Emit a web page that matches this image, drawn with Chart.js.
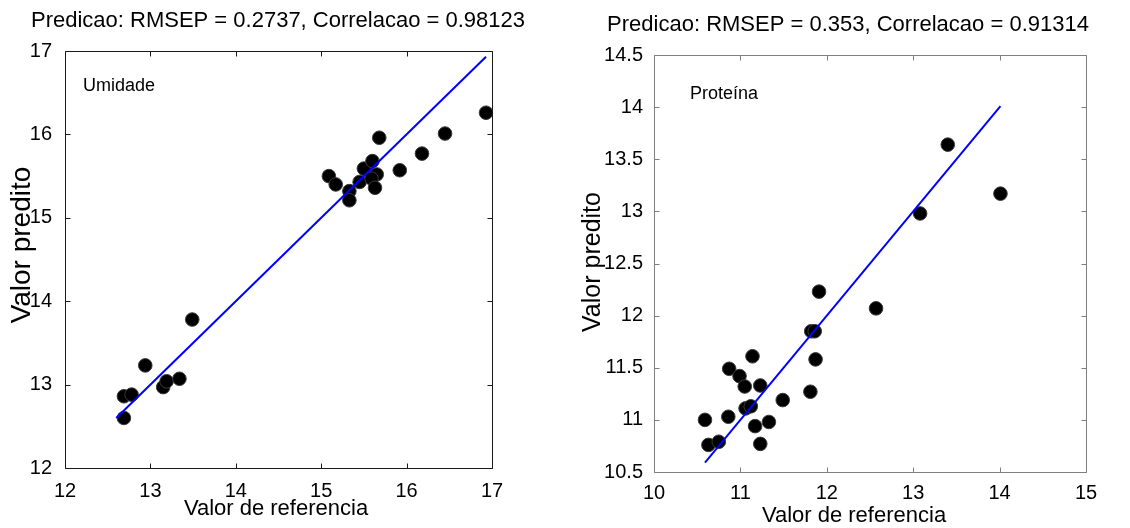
<!DOCTYPE html>
<html>
<head>
<meta charset="utf-8">
<script src="https://cdn.jsdelivr.net/npm/chart.js@4.4.1/dist/chart.umd.min.js"></script>
<style>
  html, body { margin: 0; padding: 0; background: #fff; }
  #wrap { position: relative; width: 1130px; height: 528px; overflow: hidden; }
  canvas { position: absolute; top: 0; }
  #umidadeChart { left: 0; }
  #proteinaChart { left: 565px; }
</style>
</head>
<body>
<div id="wrap">
  <canvas id="umidadeChart" width="565" height="528"></canvas>
  <canvas id="proteinaChart" width="565" height="528"></canvas>
</div>
<script>
// Umidade: valor de referencia x valor predito
const umidadeRef  = [12.69, 12.78, 12.69, 12.94, 13.15, 13.19, 13.34, 13.49, 15.09, 15.17, 15.33, 15.33,
                     15.45, 15.50, 15.60, 15.65, 15.59, 15.63, 15.68, 15.92, 16.18, 16.45, 16.93];
const umidadePred = [12.86, 12.88, 12.60, 13.23, 12.97, 13.04, 13.07, 13.78, 15.50, 15.40, 15.32, 15.21,
                     15.43, 15.59, 15.68, 15.52, 15.47, 15.36, 15.96, 15.57, 15.77, 16.01, 16.26];
const umidadeTicksX = [12, 13, 14, 15, 16, 17];
const umidadeTicksY = [12, 13, 14, 15, 16, 17];

// Proteina
const proteinaRef  = [10.59, 10.63, 10.75, 10.87, 10.86, 10.99, 11.05, 11.14, 11.06, 11.12, 11.17, 11.23,
                      11.23, 11.33, 11.49, 11.81, 11.82, 11.86, 11.87, 11.91, 12.57, 13.08, 13.40, 14.01];
const proteinaPred = [11.00, 10.76, 10.79, 11.49, 11.03, 11.42, 11.32, 11.61, 11.11, 11.13, 10.94, 11.33,
                      10.77, 10.98, 11.19, 11.27, 11.85, 11.85, 11.58, 12.23, 12.07, 12.98, 13.64, 13.17];
const proteinaTicksX = [10, 11, 12, 13, 14, 15];
const proteinaTicksY = [10.5, 11, 11.5, 12, 12.5, 13, 13.5, 14, 14.5];

const FONT = "'Liberation Sans', Arial, sans-serif";

// box with inward ticks + texts
const framePlugin = {
  id: 'frame',
  afterDraw(chart, args, opts) {
    const {ctx, chartArea: a, scales: {x, y}} = chart;
    const L = Math.round(a.left) + 0.5, R = Math.round(a.right) + 0.5;
    const T = Math.round(a.top) + 0.5, B = Math.round(a.bottom) + 0.5;
    ctx.save();
    ctx.strokeStyle = opts.color;
    ctx.lineWidth = 1;
    ctx.beginPath();
    ctx.rect(L, T, R - L, B - T);
    x.ticks.forEach(t => {
      const px = Math.round(x.getPixelForValue(t.value)) + 0.5;
      ctx.moveTo(px, B); ctx.lineTo(px, B - 5);
      ctx.moveTo(px, T); ctx.lineTo(px, T + 5);
    });
    y.ticks.forEach(t => {
      const py = Math.round(y.getPixelForValue(t.value)) + 0.5;
      ctx.moveTo(L, py); ctx.lineTo(L + 5, py);
      ctx.moveTo(R, py); ctx.lineTo(R - 5, py);
    });
    ctx.stroke();

    ctx.fillStyle = '#000';
    ctx.textBaseline = 'alphabetic';
    ctx.textAlign = 'center';
    ctx.font = '22px ' + FONT;
    ctx.fillText(opts.title, opts.titlePos[0], opts.titlePos[1]);
    ctx.fillText('Valor de referencia', opts.xTitlePos[0], opts.xTitlePos[1]);
    ctx.save();
    ctx.translate(opts.yTitlePos[0], opts.yTitlePos[1]);
    ctx.rotate(-Math.PI / 2);
    ctx.textBaseline = 'middle';
    ctx.font = opts.yTitleSize + 'px ' + FONT;
    ctx.fillText('Valor predito', 0, 0);
    ctx.restore();
    ctx.textAlign = 'left';
    ctx.font = '18px ' + FONT;
    ctx.fillText(opts.label, opts.labelPos[0], opts.labelPos[1]);
    ctx.restore();
  }
};

function makeChart(el, ref, pred, ticksX, ticksY, area, frame) {
  const points = ref.map((v, i) => ({x: v, y: pred[i]}));
  const lo = Math.min(...ref, ...pred), hi = Math.max(...ref, ...pred);
  return new Chart(el, {
    type: 'scatter',
    data: {
      datasets: [{
        type: 'line',
        data: [{x: lo, y: lo}, {x: hi, y: hi}],
        borderColor: '#0000ff',
        borderWidth: 2,
        pointRadius: 0,
        order: 0
      }, {
        data: points,
        backgroundColor: '#000',
        borderColor: '#3a3a3a',
        borderWidth: 1,
        pointRadius: 6.8,
        order: 1
      }]
    },
    options: {
      responsive: false,
      animation: false,
      events: [],
      layout: { padding: area.padding },
      plugins: { legend: { display: false }, tooltip: { enabled: false }, frame: frame },
      scales: {
        x: {
          type: 'linear',
          min: ticksX[0], max: ticksX[ticksX.length - 1],
          afterBuildTicks: s => { s.ticks = ticksX.map(v => ({value: v})); },
          afterFit: s => { s.height = area.xHeight; },
          grid: { display: false },
          border: { display: false },
          ticks: { color: '#000', padding: area.xPad, font: { family: FONT, size: 20 },
                   callback: v => String(v) }
        },
        y: {
          type: 'linear',
          min: ticksY[0], max: ticksY[ticksY.length - 1],
          afterBuildTicks: s => { s.ticks = ticksY.map(v => ({value: v})); },
          afterFit: s => { s.width = area.yWidth; },
          grid: { display: false },
          border: { display: false },
          ticks: { color: '#000', padding: area.yPad, font: { family: FONT, size: 20 },
                   callback: v => String(v) }
        }
      }
    },
    plugins: [framePlugin]
  });
}

makeChart(document.getElementById('umidadeChart'), umidadeRef, umidadePred, umidadeTicksX, umidadeTicksY,
  { padding: {left: 0, top: 51, right: 73, bottom: 0}, xHeight: 60, yWidth: 65, xPad: 3, yPad: 5 },
  { color: '#1a1a1a', title: 'Predicao: RMSEP = 0.2737, Correlacao = 0.98123', titlePos: [278, 27],
    xTitlePos: [276, 515], yTitlePos: [22, 245], yTitleSize: 28, label: 'Umidade', labelPos: [83, 91] });

makeChart(document.getElementById('proteinaChart'), proteinaRef, proteinaPred, proteinaTicksX, proteinaTicksY,
  { padding: {left: 0, top: 55, right: 44, bottom: 0}, xHeight: 56, yWidth: 89, xPad: 1, yPad: 3 },
  { color: '#7f7f7f', title: 'Predicao: RMSEP = 0.353, Correlacao = 0.91314', titlePos: [283, 31],
    xTitlePos: [289, 522], yTitlePos: [28, 262], yTitleSize: 25, label: 'Proteína', labelPos: [125, 99] });
</script>
</body>
</html>
